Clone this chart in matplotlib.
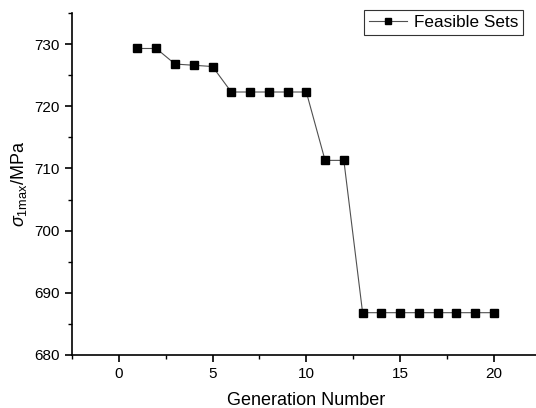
import numpy as np
import matplotlib.pyplot as plt
from matplotlib.ticker import MultipleLocator

plt.rcParams['font.family'] = ['Liberation Sans', 'DejaVu Sans']
plt.rcParams['mathtext.fontset'] = 'custom'
plt.rcParams['mathtext.rm'] = 'Liberation Sans'
plt.rcParams['mathtext.it'] = 'Liberation Sans:italic'

generation = np.arange(1, 21)
sigma_max = [729.3, 729.3, 726.8, 726.6, 726.4, 722.3, 722.3, 722.3, 722.3, 722.3,
             711.3, 711.3, 686.8, 686.8, 686.8, 686.8, 686.8, 686.8, 686.8, 686.8]

fig = plt.figure(figsize=(5.36, 4.08), dpi=100)
ax = fig.add_axes([0.134, 0.130, 0.875, 0.838])

ax.plot(generation, sigma_max, color='#505050', linewidth=0.8,
        marker='s', markersize=5.6, markerfacecolor='black',
        markeredgecolor='black', label='Feasible Sets')

ax.set_xlim(-2.5, 22.5)
ax.set_ylim(680, 735)
ax.xaxis.set_major_locator(MultipleLocator(5))
ax.xaxis.set_minor_locator(MultipleLocator(2.5))
ax.yaxis.set_major_locator(MultipleLocator(10))
ax.yaxis.set_minor_locator(MultipleLocator(5))

ax.spines['top'].set_visible(False)
ax.spines['right'].set_visible(False)
for s in ('left', 'bottom'):
    ax.spines[s].set_linewidth(1.2)
ax.tick_params(which='major', direction='out', length=5, width=1.2, labelsize=11)
ax.tick_params(which='minor', direction='out', length=3, width=1.0)

ax.set_xlabel('Generation Number', fontsize=13, labelpad=8)
ax.set_ylabel(r'$\sigma_{\rm 1max}$/MPa', fontsize=13)

leg = ax.legend(loc='upper right', bbox_to_anchor=(523 / 536, 1 - 10 / 408),
                bbox_transform=fig.transFigure, borderaxespad=0, fontsize=12.3,
                fancybox=False, edgecolor='#333333', framealpha=1,
                handlelength=2.2, borderpad=0.3, handletextpad=0.4,
                markerscale=0.8)
leg.get_frame().set_linewidth(0.8)

plt.savefig('out.png', dpi=100)
